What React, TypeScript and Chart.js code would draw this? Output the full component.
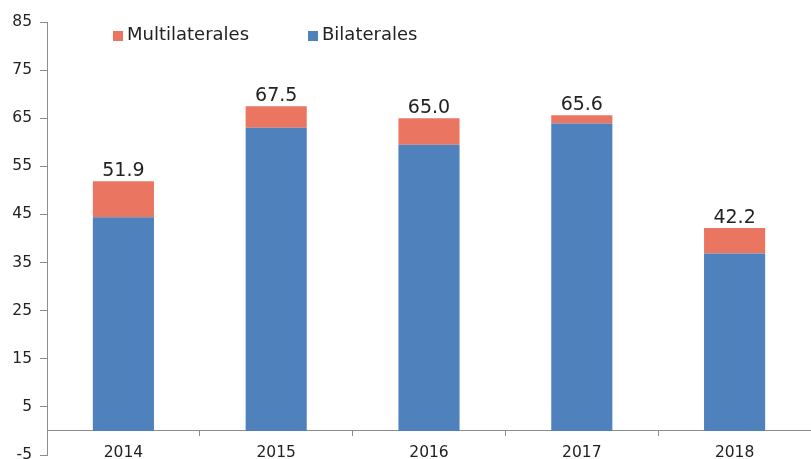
import React, { useEffect, useRef } from "react";
import { Chart, registerables } from "chart.js";

Chart.register(...registerables);

const categories = ["2014", "2015", "2016", "2017", "2018"];
const bilaterales = [44.4, 63.0, 59.5, 63.9, 36.9];
const multilaterales = [7.5, 4.5, 5.5, 1.7, 5.3];
const totalLabels = ["51.9", "67.5", "65.0", "65.6", "42.2"];
const seriesNames = ["Bilaterales", "Multilaterales"];

const BLUE = "#4F81BD";
const RED = "#EA7561";
const FONT = "'DejaVu Sans', Verdana, sans-serif";

const totalsPlugin = {
  id: "totalsPlugin",
  afterDatasetsDraw(chart: any) {
    const ctx = chart.ctx;
    const meta = chart.getDatasetMeta(1);
    ctx.save();
    ctx.font = `19px ${FONT}`;
    ctx.fillStyle = "#222";
    ctx.textAlign = "center";
    ctx.textBaseline = "alphabetic";
    meta.data.forEach((el: any, i: number) => {
      ctx.fillText(totalLabels[i], el.x, el.y - 5);
    });
    ctx.restore();
  },
};

const legendPlugin = {
  id: "legendPlugin",
  afterDraw(chart: any) {
    const ctx = chart.ctx;
    const items = [
      { text: seriesNames[1], color: RED, x: 113 },
      { text: seriesNames[0], color: BLUE, x: 308 },
    ];
    ctx.save();
    ctx.font = `18px ${FONT}`;
    ctx.textBaseline = "middle";
    ctx.textAlign = "left";
    items.forEach((it) => {
      ctx.fillStyle = it.color;
      ctx.fillRect(it.x, 31, 10, 10);
      ctx.fillStyle = "#222";
      ctx.fillText(it.text, it.x + 14, 35);
    });
    ctx.restore();
  },
};

export default function App() {
  const ref = useRef<HTMLCanvasElement>(null);
  useEffect(() => {
    if (!ref.current) return;
    const chart = new Chart(ref.current, {
      type: "bar",
      data: {
        labels: categories,
        datasets: [
          {
            label: seriesNames[0],
            data: bilaterales,
            backgroundColor: BLUE,
            categoryPercentage: 1,
            barPercentage: 0.4,
          },
          {
            label: seriesNames[1],
            data: multilaterales,
            backgroundColor: RED,
            categoryPercentage: 1,
            barPercentage: 0.4,
          },
        ],
      },
      options: {
        responsive: false,
        animation: false,
        layout: { padding: { top: 22, bottom: 4, left: 0, right: 0 } },
        plugins: { legend: { display: false }, tooltip: { enabled: false } },
        scales: {
          x: {
            stacked: true,
            position: { y: 0 } as any,
            grid: {
              display: true,
              drawOnChartArea: false,
              drawTicks: true,
              tickLength: 5,
              color: "#8c8c8c",
            },
            border: { display: true, color: "#8c8c8c" },
            ticks: {
              color: "#222",
              font: { family: FONT, size: 15.5 },
              padding: 8,
            },
          },
          y: {
            stacked: true,
            min: -5,
            max: 85,
            grid: {
              display: true,
              drawOnChartArea: false,
              drawTicks: true,
              tickLength: 7,
              color: "#8c8c8c",
            },
            border: { display: true, color: "#8c8c8c" },
            ticks: {
              stepSize: 10,
              color: "#222",
              font: { family: FONT, size: 15.5 },
              padding: 8,
            },
            afterFit(scale: any) {
              scale.width = 47;
              scale.paddingTop = 0;
              scale.paddingBottom = 0;
            },
          },
        },
      },
      plugins: [totalsPlugin, legendPlugin],
    });
    return () => chart.destroy();
  }, []);
  return (
    <div style={{ position: "fixed", left: 0, top: 0, width: 811, height: 459, background: "#fff" }}>
      <canvas ref={ref} width={811} height={459} />
    </div>
  );
}
